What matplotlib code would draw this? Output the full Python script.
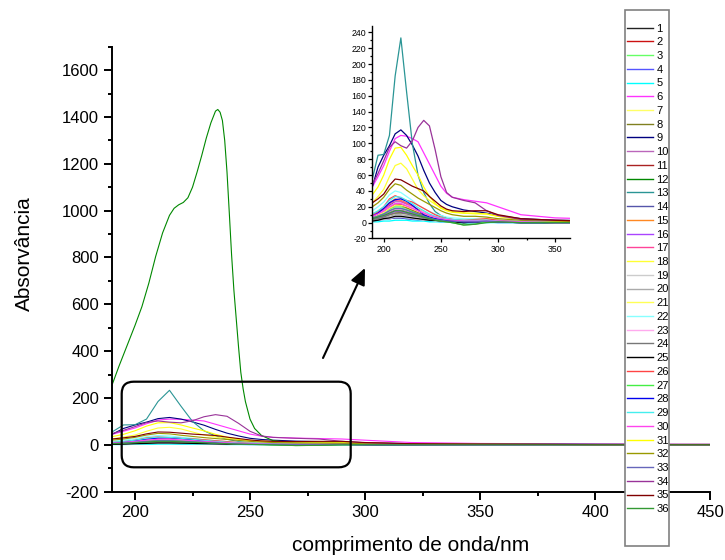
import matplotlib
matplotlib.use('Agg')
import matplotlib.pyplot as plt
from matplotlib.patches import FancyBboxPatch, FancyArrowPatch, Rectangle
from matplotlib.transforms import Affine2D
from matplotlib.ticker import MultipleLocator
from matplotlib.lines import Line2D

plt.rcParams['font.family'] = ['Liberation Sans', 'DejaVu Sans']
plt.rcParams['axes.unicode_minus'] = False

# ---------------- data ----------------
wl = [190, 195, 200, 205, 210, 215, 220, 225, 230, 235, 240, 245, 250, 255, 260,
      270, 280, 290, 300, 320, 350, 400, 450]

s1 = [3, 4, 5, 5, 6, 6, 5, 5, 4, 4, 3, 3, 2, 2, 2, 1, 1, 2, 1, 1, 0, 0, 0]
s2 = [8, 11, 15, 20, 24, 23, 20, 17, 14, 11, 8, 6, 4, 3, 2, 1, 2, 3, 2, 1, 0, 0, 0]
s3 = [6, 9, 13, 17, 20, 20, 18, 15, 12, 9, 6, 4, 3, 2, 1, -1, 0, 2, 1, 1, 0, 0, 0]
s4 = [2, 3, 4, 5, 6, 6, 5, 4, 3, 3, 2, 2, 1, 1, 1, 0, 0, 1, 0, 0, 0, 0, 0]
s5 = [1, 1, 2, 2, 3, 3, 3, 2, 2, 2, 1, 1, 1, 1, 0, 0, 0, 0, 0, 0, 0, 0, 0]
s6 = [45, 58, 72, 90, 106, 110, 109, 106, 102, 88, 74, 60, 46, 37, 32, 29, 27, 25, 20, 10, 6, 4, 3]
s7 = [4, 6, 8, 10, 12, 12, 11, 10, 8, 6, 5, 4, 3, 2, 2, 1, 2, 3, 2, 1, 0, 0, 0]
s8 = [5, 6, 8, 10, 12, 13, 12, 11, 10, 8, 7, 5, 4, 3, 2, 1, 1, 2, 1, 1, 0, 0, 0]
s9 = [45, 70, 85, 97, 112, 117, 110, 98, 84, 66, 50, 38, 28, 23, 20, 16, 14, 12, 9, 5, 3, 2, 1]
s10 = [5, 7, 10, 13, 16, 16, 14, 12, 10, 8, 6, 4, 3, 2, 2, 1, 1, 2, 1, 1, 0, 0, 0]
s11 = [7, 10, 14, 18, 22, 22, 19, 16, 13, 10, 8, 6, 4, 3, 2, 0, 1, 3, 2, 1, 0, 0, 0]
s13 = [55, 85, 86, 110, 185, 233, 165, 100, 60, 38, 24, 14, 9, 6, 4, 2, 2, 3, 2, 1, 1, 0, 0]
s14 = [9, 12, 17, 22, 26, 26, 23, 19, 15, 12, 9, 7, 5, 4, 3, 2, 2, 3, 2, 1, 0, 0, 0]
s15 = [10, 13, 18, 25, 30, 28, 25, 21, 17, 13, 10, 7, 5, 4, 3, 2, 3, 4, 3, 1, 0, 0, 0]
s16 = [4, 6, 8, 11, 14, 14, 12, 10, 8, 6, 5, 4, 3, 2, 2, 1, 1, 2, 1, 1, 0, 0, 0]
s17 = [9, 12, 17, 23, 28, 27, 24, 20, 16, 12, 9, 7, 5, 4, 3, 2, 2, 3, 2, 1, 0, 0, 0]
s18 = [25, 33, 42, 58, 72, 75, 68, 55, 42, 34, 28, 23, 19, 16, 14, 12, 11, 11, 8, 4, 2, 1, 1]
s19 = [2, 3, 4, 5, 7, 7, 6, 5, 4, 3, 3, 2, 2, 1, 1, 1, 1, 1, 1, 0, 0, 0, 0]
s20 = [3, 4, 6, 8, 10, 10, 9, 8, 7, 6, 5, 4, 3, 2, 2, 1, 1, 2, 1, 1, 0, 0, 0]
s21 = [7, 10, 13, 18, 22, 22, 20, 17, 14, 11, 8, 6, 4, 3, 3, 2, 3, 5, 3, 1, 0, 0, 0]
s22 = [15, 20, 26, 35, 40, 38, 33, 28, 22, 18, 14, 11, 9, 7, 6, 5, 5, 4, 3, 2, 1, 0, 0]
s23 = [8, 11, 15, 20, 25, 25, 22, 19, 16, 13, 10, 8, 6, 5, 4, 3, 3, 3, 2, 1, 0, 0, 0]
s24 = [4, 5, 7, 10, 12, 12, 11, 9, 8, 6, 5, 4, 3, 2, 2, 1, 1, 2, 1, 0, 0, 0, 0]
s25 = [2, 3, 5, 6, 8, 8, 7, 6, 5, 4, 3, 3, 2, 2, 1, 0, 1, 1, 1, 0, 0, 0, 0]
s26 = [10, 14, 20, 30, 34, 31, 28, 26, 22, 18, 14, 10, 7, 5, 4, 3, 4, 5, 3, 1, 0, 0, 0]
s27 = [6, 8, 11, 15, 18, 18, 16, 14, 11, 8, 6, 4, 2, 1, 0, -3, -2, 1, 1, 0, 0, 0, 0]
s28 = [8, 12, 18, 25, 29, 30, 27, 22, 16, 10, 7, 5, 4, 3, 2, 1, 1, 2, 1, 0, 0, 0, 0]
s29 = [11, 15, 20, 28, 33, 32, 28, 24, 19, 15, 11, 8, 6, 5, 4, 3, 3, 3, 2, 1, 0, 0, 0]
s30 = [8, 11, 15, 20, 24, 24, 21, 18, 15, 12, 9, 7, 5, 4, 3, 2, 2, 2, 2, 1, 0, 0, 0]
s31 = [35, 45, 60, 80, 94, 95, 85, 72, 60, 45, 33, 24, 18, 15, 13, 12, 12, 11, 8, 4, 2, 1, 1]
s32 = [20, 25, 32, 42, 49, 47, 41, 36, 31, 27, 23, 19, 15, 12, 10, 8, 8, 7, 5, 3, 2, 1, 1]
s33 = [6, 8, 11, 15, 18, 18, 16, 13, 11, 8, 6, 4, 3, 2, 2, 1, 1, 2, 1, 0, 0, 0, 0]
s34 = [48, 62, 78, 95, 102, 97, 94, 103, 120, 129, 122, 92, 58, 38, 32, 28, 25, 15, 9, 4, 3, 2, 1]
s35 = [25, 30, 36, 47, 55, 54, 50, 46, 43, 40, 33, 27, 21, 17, 15, 14, 15, 15, 10, 5, 3, 1, 1]
s36 = [5, 7, 9, 12, 15, 15, 13, 11, 9, 7, 5, 3, 2, 1, 0, -3, -2, 0, 1, 0, 0, 0, 0]

# series 12 (the large band) has its own wavelength grid
wl12 = [190, 193, 196, 200, 203, 206, 209, 212, 215, 217, 219, 221, 223, 225, 227,
        229, 231, 233, 235, 236, 237, 238, 239, 240, 241, 242, 243, 244, 245, 246,
        247, 248, 250, 252, 255, 260, 270, 300, 350, 400, 450]
s12 = [255, 335, 410, 510, 590, 690, 805, 905, 980, 1010, 1025, 1035, 1055, 1100, 1165,
       1235, 1310, 1375, 1425, 1432, 1420, 1385, 1300, 1165, 990, 810, 660, 540, 420, 310,
       240, 185, 110, 70, 40, 18, 8, 5, 3, 2, 2]

labels = [str(i) for i in range(1, 37)]
colors = ['#222222', '#cc1111', '#66ff66', '#5555ff', '#00ffff', '#ff33ff', '#ffff66',
          '#808020', '#000080', '#bb66bb', '#aa2222', '#008800', '#2a9595', '#5555aa',
          '#ff8822', '#aa44ff', '#ff4499', '#ffff33', '#cccccc', '#aaaaaa', '#ffff55',
          '#88ffff', '#ffaaee', '#777777', '#000000', '#ff4444', '#44ee44', '#0000ee',
          '#44eeee', '#ff44ee', '#ffff00', '#999900', '#6666bb', '#993399', '#800000',
          '#339933']

series = [s1, s2, s3, s4, s5, s6, s7, s8, s9, s10, s11, s12, s13, s14, s15, s16, s17, s18,
          s19, s20, s21, s22, s23, s24, s25, s26, s27, s28, s29, s30, s31, s32, s33, s34,
          s35, s36]

# ---------------- figure ----------------
W, H = 725, 560
fig = plt.figure(figsize=(W / 100, H / 100), dpi=100)

ax = fig.add_axes([112 / W, 1 - 491.7 / H, (710 - 112) / W, (491.7 - 46.7) / H])
for i, (ys, c) in enumerate(zip(series, colors)):
    xs = wl12 if i == 11 else wl
    ax.plot(xs, ys, color=c, lw=0.8)

ax.set_xlim(190, 450)
ax.set_ylim(-200, 1700)
ax.xaxis.set_major_locator(MultipleLocator(50))
ax.xaxis.set_minor_locator(MultipleLocator(25))
ax.yaxis.set_major_locator(MultipleLocator(200))
ax.yaxis.set_minor_locator(MultipleLocator(100))
for s in ['top', 'right']:
    ax.spines[s].set_visible(False)
for s in ['left', 'bottom']:
    ax.spines[s].set_linewidth(1.4)
ax.tick_params(which='major', direction='out', length=5.8, width=1.4, labelsize=12, pad=3.5)
ax.tick_params(which='minor', direction='out', length=3, width=1.4)
ax.set_xlabel('comprimento de onda/nm', fontsize=15)
ax.set_ylabel('Absorvância', fontsize=15)
ax.xaxis.set_label_coords(0.5, -0.1)
ax.yaxis.set_label_coords(-0.13, 0.535)

# ---------------- inset ----------------
axi = fig.add_axes([372.3 / W, 1 - 238.5 / H, (570 - 372.3) / W, (238.5 - 26) / H])
for i, (ys, c) in enumerate(zip(series, colors)):
    if i == 11:
        continue
    axi.plot(wl, ys, color=c, lw=0.9)
axi.set_xlim(190, 363)
axi.set_ylim(-20, 248)
axi.xaxis.set_major_locator(MultipleLocator(50))
axi.xaxis.set_minor_locator(MultipleLocator(25))
axi.yaxis.set_major_locator(MultipleLocator(20))
axi.yaxis.set_minor_locator(MultipleLocator(10))
for s in ['top', 'right']:
    axi.spines[s].set_visible(False)
for s in ['left', 'bottom']:
    axi.spines[s].set_linewidth(1.0)
axi.tick_params(which='major', direction='out', length=3, width=0.9, labelsize=6.3, pad=1.5)
axi.tick_params(which='minor', direction='out', length=1.6, width=0.9)

# ---------------- annotations (pixel coordinates, origin top-left) ----------------
T = Affine2D().scale(1 / W, -1 / H).translate(0, 1) + fig.transFigure
box = FancyBboxPatch((121.7, 381.7), 229, 85.6,
                     boxstyle='round,pad=0,rounding_size=12',
                     transform=T, fill=False, lw=1.6, ec='black', zorder=3)
fig.add_artist(box)
arr = FancyArrowPatch(posA=(323, 358), posB=(365, 268),
                      arrowstyle='-|>,head_length=1.0,head_width=0.45',
                      mutation_scale=10, transform=T, lw=1.5, color='black',
                      shrinkA=0, shrinkB=0, zorder=3)
fig.add_artist(arr)

# ---------------- legend ----------------
frame = Rectangle((624.7, 10), 44.3, 536, transform=T, facecolor='white',
                  edgecolor='#808080', lw=1.2, zorder=4)
fig.add_artist(frame)
handles = [Line2D([], [], color=c, lw=1.0) for c in colors]
leg = fig.legend(handles, labels, loc='upper left',
                 bbox_to_anchor=(626.5 / W, 1 - 23.5 / H), frameon=False,
                 fontsize=8, handlelength=2.4, handletextpad=0.3,
                 labelspacing=0.336, borderpad=0, borderaxespad=0)
leg.set_zorder(5)

fig.savefig('out.png', dpi=100)
